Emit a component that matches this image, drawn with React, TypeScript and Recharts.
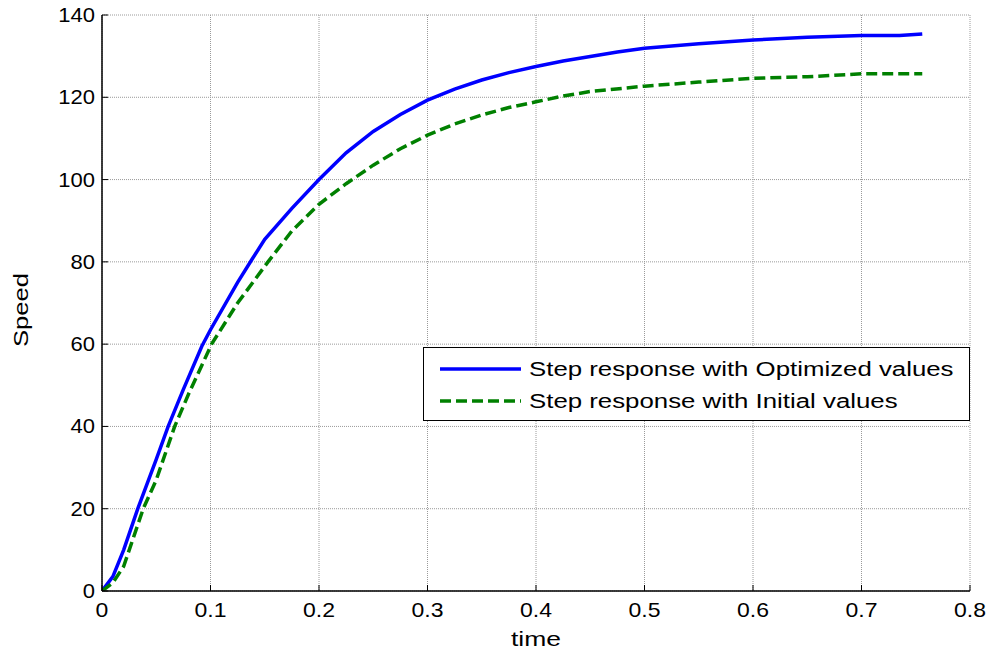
import { LineChart, Line, XAxis, YAxis, CartesianGrid, Legend, Label } from "recharts";

// step response, optimized controller
const timeOpt = [0, 0.01, 0.02, 0.033, 0.05, 0.061, 0.075, 0.092, 0.1, 0.125, 0.138, 0.15, 0.175, 0.2, 0.225, 0.25, 0.275, 0.3, 0.325, 0.35, 0.375, 0.4, 0.425, 0.45, 0.475, 0.5, 0.55, 0.6, 0.65, 0.7, 0.735, 0.756];
const speedOpt = [0, 3.5, 10, 20, 32, 40, 49, 59.5, 63.5, 75, 80.5, 85.5, 93, 100, 106.5, 111.7, 115.8, 119.3, 122, 124.2, 126, 127.5, 128.8, 129.9, 131, 131.9, 133, 133.9, 134.6, 135, 135, 135.4];

// step response, initial controller
const timeInit = [0, 0.01, 0.02, 0.038, 0.05, 0.067, 0.08, 0.101, 0.125, 0.153, 0.175, 0.2, 0.225, 0.25, 0.275, 0.3, 0.325, 0.35, 0.375, 0.4, 0.425, 0.45, 0.5, 0.55, 0.6, 0.65, 0.7, 0.756];
const speedInit = [0, 2, 6, 20, 27, 40, 48, 60, 70, 80, 87.5, 94, 99, 103.5, 107.5, 110.8, 113.5, 115.7, 117.5, 118.9, 120.3, 121.4, 122.7, 123.7, 124.6, 125, 125.7, 125.7];

const xTicks = [0, 0.1, 0.2, 0.3, 0.4, 0.5, 0.6, 0.7, 0.8];
const yTicks = [0, 20, 40, 60, 80, 100, 120, 140];

const optData = timeOpt.map((t, i) => ({ t, v: speedOpt[i] }));
const initData = timeInit.map((t, i) => ({ t, v: speedInit[i] }));

const FONT = "'Liberation Sans', Arial, sans-serif";

function BottomTick({ x, y, payload }: any) {
  return (
    <g>
      <line x1={x} x2={x} y1={y} y2={y - 6} stroke="#000" />
      <text
        transform={`translate(${x},${y + 26}) scale(1.15,1)`}
        textAnchor="middle"
        fontSize={20}
        fontFamily={FONT}
        fill="#000"
      >
        {String(payload.value)}
      </text>
    </g>
  );
}

function LeftTick({ x, y, payload }: any) {
  return (
    <g>
      <line x1={x} x2={x + 6} y1={y} y2={y} stroke="#000" />
      <text
        transform={`translate(${x - 7},${y + 7}) scale(1.1,1)`}
        textAnchor="end"
        fontSize={20}
        fontFamily={FONT}
        fill="#000"
      >
        {String(payload.value)}
      </text>
    </g>
  );
}

function TopTick({ x, y }: any) {
  return <line x1={x} x2={x} y1={y} y2={y + 6} stroke="#000" />;
}

function RightTick({ x, y }: any) {
  return <line x1={x} x2={x - 6} y1={y} y2={y} stroke="#000" />;
}

function LegendBox() {
  const row = (color: string, dash: string | undefined, label: string) => (
    <div style={{ display: "flex", alignItems: "center", height: 32 }}>
      <svg width={100} height={10} style={{ flex: "none" }}>
        <line x1={16} x2={97} y1={5} y2={5} stroke={color} strokeWidth={3.5} strokeDasharray={dash} />
      </svg>
      <span
        style={{
          fontFamily: FONT,
          fontSize: 20,
          whiteSpace: "nowrap",
          display: "inline-block",
          transform: "scaleX(1.29)",
          transformOrigin: "left center",
          marginLeft: 5,
        }}
      >
        {label}
      </span>
    </div>
  );
  return (
    <div
      style={{
        width: 545,
        height: 67,
        border: "1px solid #000",
        background: "#fff",
        boxSizing: "content-box",
        paddingTop: 5,
      }}
    >
      {row("#0000ff", undefined, "Step response with Optimized values")}
      {row("#008000", "11 5", "Step response with Initial values")}
    </div>
  );
}

export default function App() {
  return (
    <div style={{ position: "absolute", left: 0, top: 0, background: "#fff" }}>
      <LineChart width={991} height={654} margin={{ top: 15, right: 21, bottom: 0, left: 0 }}>
        <CartesianGrid stroke="#9a9a9a" strokeDasharray="1 1" strokeWidth={1} />
        <XAxis
          dataKey="t"
          type="number"
          domain={[0, 0.8]}
          ticks={xTicks}
          allowDataOverflow
          height={63}
          tickSize={0}
          tickMargin={0}
          tickLine={false}
          axisLine={{ stroke: "#000", strokeWidth: 1.5 }}
          tick={<BottomTick />}
          interval={0}
        >
          <Label
            content={({ viewBox }: any) => (
              <text
                x={viewBox.x + viewBox.width / 2}
                y={646}
                textAnchor="middle"
                fontSize={20}
                fontFamily={FONT}
                textLength={50}
                lengthAdjust="spacingAndGlyphs"
              >
                time
              </text>
            )}
          />
        </XAxis>
        <XAxis
          xAxisId="top"
          orientation="top"
          dataKey="t"
          type="number"
          domain={[0, 0.8]}
          ticks={xTicks}
          allowDataOverflow
          height={0}
          tickSize={0}
          tickMargin={0}
          tickLine={false}
          axisLine={{ stroke: "#000", strokeWidth: 1.5 }}
          tick={<TopTick />}
          interval={0}
        />
        <YAxis
          type="number"
          domain={[0, 140]}
          ticks={yTicks}
          allowDataOverflow
          width={102}
          tickSize={0}
          tickMargin={0}
          tickLine={false}
          axisLine={{ stroke: "#000", strokeWidth: 1.5 }}
          tick={<LeftTick />}
          interval={0}
        >
          <Label
            content={() => (
              <text
                transform="translate(28,310) rotate(-90)"
                textAnchor="middle"
                fontSize={21}
                fontFamily={FONT}
                textLength={74}
                lengthAdjust="spacingAndGlyphs"
              >
                Speed
              </text>
            )}
          />
        </YAxis>
        <YAxis
          yAxisId="right"
          orientation="right"
          type="number"
          domain={[0, 140]}
          ticks={yTicks}
          allowDataOverflow
          width={0}
          tickSize={0}
          tickMargin={0}
          tickLine={false}
          axisLine={{ stroke: "#000", strokeWidth: 1.5 }}
          tick={<RightTick />}
          interval={0}
        />
        <Legend
          layout="horizontal"
          verticalAlign="middle"
          align="center"
          wrapperStyle={{ position: "absolute", left: 423, top: 347, width: "auto" }}
          content={() => <LegendBox />}
        />
        <Line
          data={optData}
          dataKey="v"
          type="linear"
          stroke="#0000ff"
          strokeWidth={3.5}
          dot={false}
          isAnimationActive={false}
        />
        <Line
          data={initData}
          dataKey="v"
          type="linear"
          stroke="#008000"
          strokeWidth={3.5}
          strokeDasharray="11 5"
          dot={false}
          isAnimationActive={false}
        />
      </LineChart>
    </div>
  );
}
